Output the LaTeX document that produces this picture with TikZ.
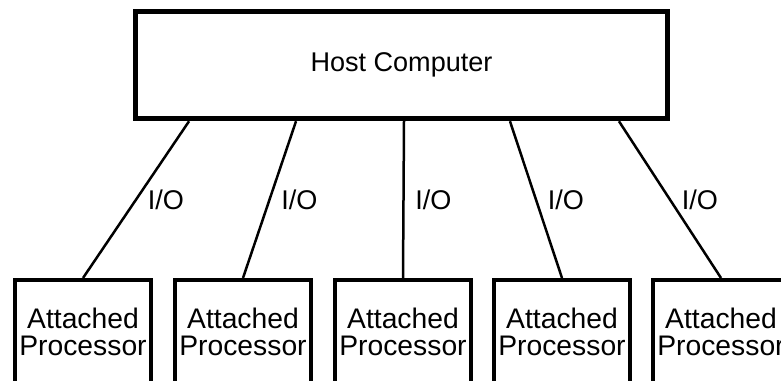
\documentclass[tikz,border=0pt]{standalone}
\usepackage{fontspec}
\setmainfont{Liberation Sans}
\usetikzlibrary{positioning}

\begin{document}
\begin{tikzpicture}[x=0.02cm,y=-0.02cm,
  hostbox/.style={draw, line width=0.1cm, minimum width=10.65cm, minimum height=2.15cm},
  procbox/.style={draw, line width=0.08cm, minimum width=2.74cm, minimum height=2.08cm, anchor=north, align=center,
    font=\fontsize{16.1}{15.4}\selectfont},
  iolink/.style={line width=0.05cm}]
\tikzstyle{every node}+=[inner sep=0pt, font=\fontsize{15.4}{14.7}\selectfont]
\useasboundingbox (0,0) rectangle (781,381);
\clip (0,0) rectangle (781,381);
\node [hostbox] (host) at (401.5,65) {Host Computer};
\node [procbox] (ap1) at (83,278) {Attached\\Processor};
\node [procbox] (ap2) at (243,278) {Attached\\Processor};
\node [procbox] (ap3) at (403,278) {Attached\\Processor};
\node [procbox] (ap4) at (562,278) {Attached\\Processor};
\node [procbox] (ap5) at (721,278) {Attached\\Processor};
\draw [iolink] ([xshift=-4.25cm]host.south) -- (ap1.north) node [midway, right, inner xsep=6pt] {I/O};
\draw [iolink] ([xshift=-2.11cm]host.south) -- (ap2.north) node [midway, right, inner xsep=6pt] {I/O};
\draw [iolink] ([xshift=0.05cm]host.south) -- (ap3.north) node [midway, right, inner xsep=6pt] {I/O};
\draw [iolink] ([xshift=2.17cm]host.south) -- (ap4.north) node [midway, right, inner xsep=6pt] {I/O};
\draw [iolink] ([xshift=4.35cm]host.south) -- (ap5.north) node [midway, right, inner xsep=6pt] {I/O};
\end{tikzpicture}
\end{document}
